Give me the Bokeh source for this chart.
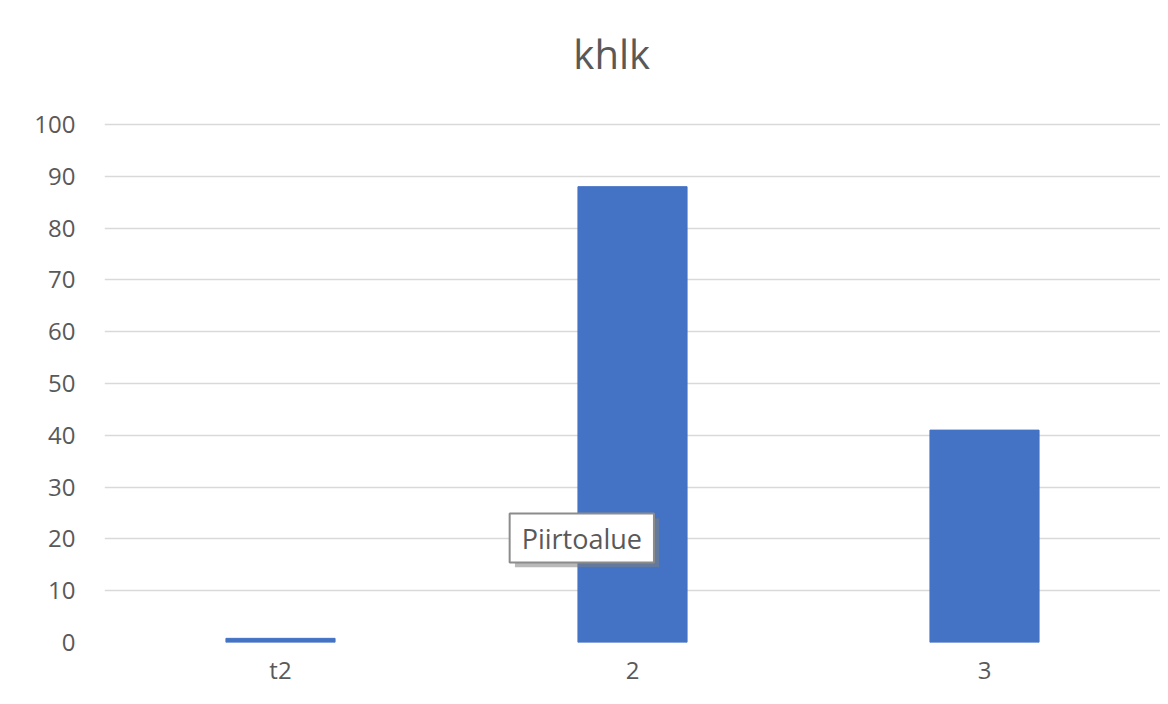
from bokeh.plotting import figure
from bokeh.models import FactorRange, Range1d, ColumnDataSource, Label, FixedTicker
from bokeh.embed import file_html
from bokeh.resources import INLINE

categories = ["t2", "2", "3"]
values = [0.8, 88, 41]
y_ticks = [0, 10, 20, 30, 40, 50, 60, 70, 80, 90, 100]
title_text = "khlk"
tooltip_text = "Piirtoalue"

FONT = "Open Sans"
GRAY = "#595959"

src = ColumnDataSource(dict(cat=categories, val=values))

# the plotting frame also hosts the title area above the 100 gridline
p = figure(x_range=FactorRange(*categories, range_padding=0),
           y_range=Range1d(0, 120.08),
           width=1160, height=688, output_backend="svg", toolbar_location=None,
           min_border_left=104, min_border_right=0, min_border_top=20, min_border_bottom=46)

p.vbar(x="cat", top="val", width=0.31, source=src, color="#4472C4")

# chart title
title = Label(x=1.332, y=113.7, text=title_text, text_align="left", text_baseline="alphabetic",
              text_font=FONT, text_font_size="40px", text_color=GRAY)
p.add_layout(title)

p.outline_line_color = None
p.xgrid.grid_line_color = None
p.ygrid.grid_line_color = "#d9d9d9"
p.ygrid.grid_line_width = 1.5
p.yaxis.ticker = FixedTicker(ticks=y_ticks)
for ax in (p.xaxis, p.yaxis):
    ax.axis_line_color = None
    ax.major_tick_line_color = None
    ax.minor_tick_line_color = None
    ax.major_tick_out = 0
    ax.major_tick_in = 0
    ax.major_label_text_font = FONT
    ax.major_label_text_font_size = "24px"
    ax.major_label_text_color = GRAY
p.yaxis.major_label_standoff = 29
p.xaxis.major_label_standoff = 10

# tooltip-like callout with shadow
pad = dict(left=12, right=12, top=6, bottom=6)
shadow = Label(x=1.166, y=24.0, text=tooltip_text, text_align="left", text_baseline="top",
               text_font=FONT, text_font_size="27px", text_color=(0, 0, 0, 0),
               background_fill_color="#7f7f7f", background_fill_alpha=0.55, padding=pad)
box = Label(x=1.151, y=24.9, text=tooltip_text, text_align="left", text_baseline="top",
            text_font=FONT, text_font_size="27px", text_color=GRAY,
            background_fill_color="white", border_line_color="#8c8c8c", border_line_width=2, padding=pad)
p.add_layout(shadow)
p.add_layout(box)

open("out.html", "w").write(file_html(p, INLINE))
